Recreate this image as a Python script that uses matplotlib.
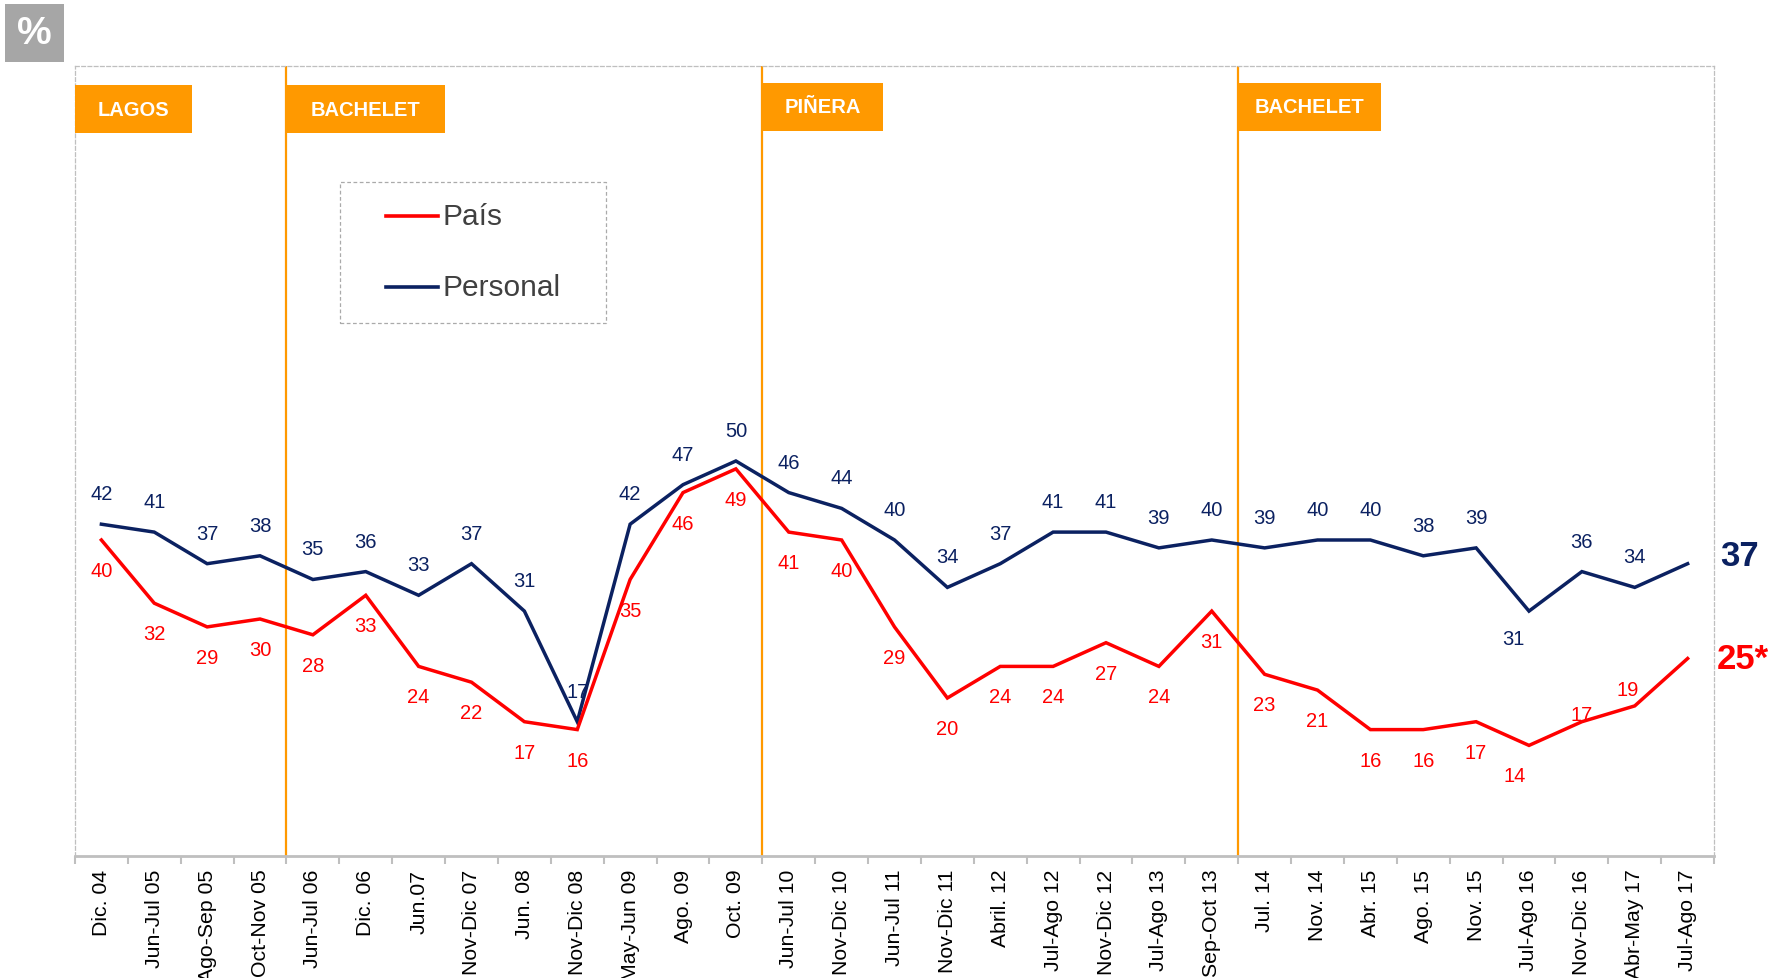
import matplotlib.pyplot as plt
from matplotlib.patches import Rectangle
from matplotlib.lines import Line2D

plt.rcParams['font.family'] = ['Liberation Sans', 'DejaVu Sans']

# categories and series
categories = ["Dic. 04", "Jun-Jul 05", "Ago-Sep 05", "Oct-Nov 05", "Jun-Jul 06", "Dic. 06",
              "Jun.07", "Nov-Dic 07", "Jun. 08", "Nov-Dic 08", "May-Jun 09", "Ago. 09",
              "Oct. 09", "Jun-Jul 10", "Nov-Dic 10", "Jun-Jul 11", "Nov-Dic 11", "Abril. 12",
              "Jul-Ago 12", "Nov-Dic 12", "Jul-Ago 13", "Sep-Oct 13", "Jul. 14", "Nov. 14",
              "Abr. 15", "Ago. 15", "Nov. 15", "Jul-Ago 16", "Nov-Dic 16", "Abr-May 17",
              "Jul-Ago 17"]
personal = [42, 41, 37, 38, 35, 36, 33, 37, 31, 17, 42, 47, 50, 46, 44, 40, 34, 37, 41, 41,
            39, 40, 39, 40, 40, 38, 39, 31, 36, 34, 37]
pais = [40, 32, 29, 30, 28, 33, 24, 22, 17, 16, 35, 46, 49, 41, 40, 29, 20, 24, 24, 27,
        24, 31, 23, 21, 16, 16, 17, 14, 17, 19, 25]

# government periods (start index, name)
periods = [(0, "LAGOS"), (4, "BACHELET"), (13, "PIÑERA"), (22, "BACHELET")]

RED = '#FF0000'
NAVY = '#0B2161'
ORANGE = '#FF9900'
GRAY = '#BFBFBF'

fig = plt.figure(figsize=(17.72, 9.79), dpi=100)
ax = fig.add_axes([0.0423, 0.1246, 0.925, 0.807])

x = list(range(len(categories)))
ax.plot(x, personal, color=NAVY, lw=2.5, solid_joinstyle='miter', zorder=3)
ax.plot(x, pais, color=RED, lw=2.5, solid_joinstyle='miter', zorder=3)

ax.set_xlim(-0.5, len(categories) - 0.5)
ax.set_ylim(0, 100)

# point labels (personal above, país below, with a few tweaks)
for i, v in enumerate(personal[:-1]):
    dy = -20 if i == 27 else 22
    dx = -11 if i == 27 else 0
    ax.annotate(str(v), (i, v), xytext=(dx, dy), textcoords='offset points',
                ha='center', va='center', fontsize=14.5, color=NAVY)
pais_dy = {28: 5, 29: 12}
pais_dx = {27: -10, 29: -5}
for i, v in enumerate(pais[:-1]):
    ax.annotate(str(v), (i, v), xytext=(pais_dx.get(i, 0), pais_dy.get(i, -22)),
                textcoords='offset points', ha='center', va='center', fontsize=14.5, color=RED)

# last values, big, to the right of the plot
ax.text(len(categories) - 0.38, personal[-1] + 1, str(personal[-1]), fontsize=25,
        fontweight='bold', color=NAVY, va='center', ha='left', clip_on=False)
ax.text(len(categories) - 0.44, pais[-1], f"{pais[-1]}*", fontsize=25,
        fontweight='bold', color=RED, va='center', ha='left', clip_on=False)

# period separators and tags
box_w = [2.22, 2.99, 2.29, 2.71]
box_top = [97.6, 97.6, 97.9, 97.9]
for (start, name), w, top in zip(periods, box_w, box_top):
    if start > 0:
        ax.axvline(start - 0.5, color=ORANGE, lw=1.6, zorder=2)
    ax.add_patch(Rectangle((start - 0.5, top - 6.1), w, 6.1, facecolor=ORANGE,
                           edgecolor='none', zorder=4))
    ax.text(start - 0.5 + w / 2, top - 3.05, name, ha='center', va='center',
            fontsize=14.5, fontweight='bold', color='white', zorder=5)

# axes styling
for side in ['left', 'top', 'right']:
    ax.spines[side].set_color(GRAY)
    ax.spines[side].set_linestyle((0, (3, 2)))
    ax.spines[side].set_linewidth(0.9)
ax.spines['bottom'].set_color(GRAY)
ax.spines['bottom'].set_linewidth(2)
ax.set_yticks([])
ax.set_xticks(x)
ax.set_xticklabels(categories, rotation=90, fontsize=15.3, va='top')
ax.tick_params(axis='x', which='major', length=0, pad=9)
ax.set_xticks([k - 0.5 for k in range(len(categories) + 1)], minor=True)
ax.tick_params(axis='x', which='minor', length=6, color=GRAY, width=1.5)

# legend box
ax.add_patch(Rectangle((0.162, 0.675), 0.162, 0.178, transform=ax.transAxes, fill=False,
                       edgecolor='#AAAAAA', lw=0.9, linestyle=(0, (3, 2)), zorder=4))
for yy, col, lab in [(0.810, RED, "País"), (0.7196, NAVY, "Personal")]:
    ax.add_line(Line2D([0.1896, 0.2213], [yy, yy], transform=ax.transAxes, color=col,
                       lw=2.6, zorder=5))
    ax.text(0.2245, yy, lab, transform=ax.transAxes, fontsize=21.5, color='#404040',
            va='center', ha='left', zorder=5)

# "%" badge
fig.patches.append(Rectangle((4.5 / 1772, 1 - 63 / 979), 59.5 / 1772, 58.5 / 979,
                             transform=fig.transFigure, facecolor='#A6A6A6', edgecolor='none'))
fig.text(34 / 1772, 1 - 34 / 979, "%", fontsize=28, fontweight='bold', color='white',
         ha='center', va='center')

fig.savefig("out.png", dpi=100)
